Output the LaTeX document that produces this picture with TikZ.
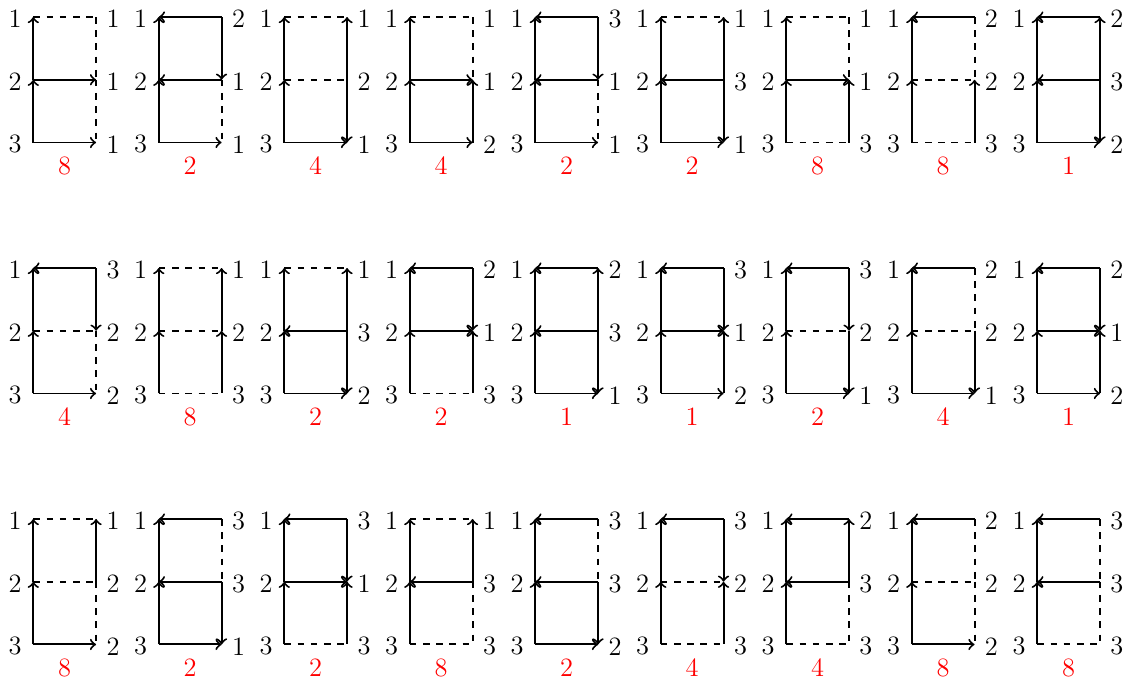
\documentclass[tikz,border=0pt]{standalone}
\begin{document}
\tikzset{
  edge/.style={line width=0.9pt},
  fw/.style={edge,->},
  bw/.style={edge,<-},
  d/.style={edge,dashed},
  lab/.style={inner sep=0pt, font=\large},
  num/.style={inner sep=0pt, text=red, font=\large},
}
\begin{tikzpicture}
\useasboundingbox (-0.531,-10.55) rectangle (17.494,0.271);
\foreach \cc/\rr/\ra/\rb/\rc/\nn/\sT/\sU/\sM/\sL/\sB in {
 0/0/1/1/1/8/d/d/fw/d/fw,
 1/0/2/1/1/2/bw/fw/bw/d/fw,
 2/0/1/2/1/4/d/bw/d/fw/fw,
 3/0/1/1/2/4/d/d/fw/bw/fw,
 4/0/3/1/1/2/bw/fw/bw/d/fw,
 5/0/1/3/1/2/d/bw/bw/fw/fw,
 6/0/1/1/3/8/d/d/fw/bw/d,
 7/0/2/2/3/8/bw/d/d/bw/d,
 8/0/2/3/2/1/bw/bw/bw/fw/fw,
 0/1/3/2/2/4/bw/fw/d/d/fw,
 1/1/1/2/3/8/d/bw/d/bw/d,
 2/1/1/3/2/2/d/bw/bw/fw/fw,
 3/1/2/1/3/2/bw/fw/fw/bw/d,
 4/1/2/3/1/1/bw/bw/bw/fw/fw,
 5/1/3/1/2/1/bw/fw/fw/bw/fw,
 6/1/3/2/1/2/bw/fw/d/fw/fw,
 7/1/2/2/1/4/bw/d/d/fw/fw,
 8/1/2/1/2/1/bw/fw/fw/bw/fw,
 0/2/1/2/2/8/d/bw/d/d/fw,
 1/2/3/3/1/2/bw/d/bw/fw/fw,
 2/2/3/1/3/2/bw/fw/fw/bw/d,
 3/2/1/3/3/8/d/bw/bw/d/d,
 4/2/3/3/2/2/bw/d/bw/fw/fw,
 5/2/3/2/3/4/bw/fw/d/bw/d,
 6/2/2/3/3/4/bw/bw/bw/d/d,
 7/2/2/2/2/8/bw/d/d/d/fw,
 8/2/3/3/3/8/bw/d/bw/d/d}{
  \pgfmathsetmacro\xx{2*\cc}
  \pgfmathsetmacro\yy{-4*\rr}
  \coordinate (L1-\cc-\rr) at (\xx,\yy);
  \coordinate (L2-\cc-\rr) at (\xx,\yy-1);
  \coordinate (L3-\cc-\rr) at (\xx,\yy-2);
  \coordinate (R1-\cc-\rr) at (\xx+1,\yy);
  \coordinate (R2-\cc-\rr) at (\xx+1,\yy-1);
  \coordinate (R3-\cc-\rr) at (\xx+1,\yy-2);
  \node[lab] (tl1-\cc-\rr) at (\xx-0.29,\yy-0.03) {1};
  \node[lab] (tl2-\cc-\rr) at (\xx-0.29,\yy-1.03) {2};
  \node[lab] (tl3-\cc-\rr) at (\xx-0.29,\yy-2.03) {3};
  \node[lab] (tr1-\cc-\rr) at (\xx+1.27,\yy-0.03) {\ra};
  \node[lab] (tr2-\cc-\rr) at (\xx+1.27,\yy-1.03) {\rb};
  \node[lab] (tr3-\cc-\rr) at (\xx+1.27,\yy-2.03) {\rc};
  \node[num] (n-\cc-\rr) at (\xx+0.5,\yy-2.37) {\nn};
  \draw[fw] (L3-\cc-\rr) -- (L2-\cc-\rr);
  \draw[fw] (L2-\cc-\rr) -- (L1-\cc-\rr);
  \draw[\sT] (L1-\cc-\rr) -- (R1-\cc-\rr);
  \draw[\sU] (R1-\cc-\rr) -- (R2-\cc-\rr);
  \draw[\sM] (L2-\cc-\rr) -- (R2-\cc-\rr);
  \draw[\sL] (R2-\cc-\rr) -- (R3-\cc-\rr);
  \draw[\sB] (L3-\cc-\rr) -- (R3-\cc-\rr);
}
\end{tikzpicture}
\end{document}
